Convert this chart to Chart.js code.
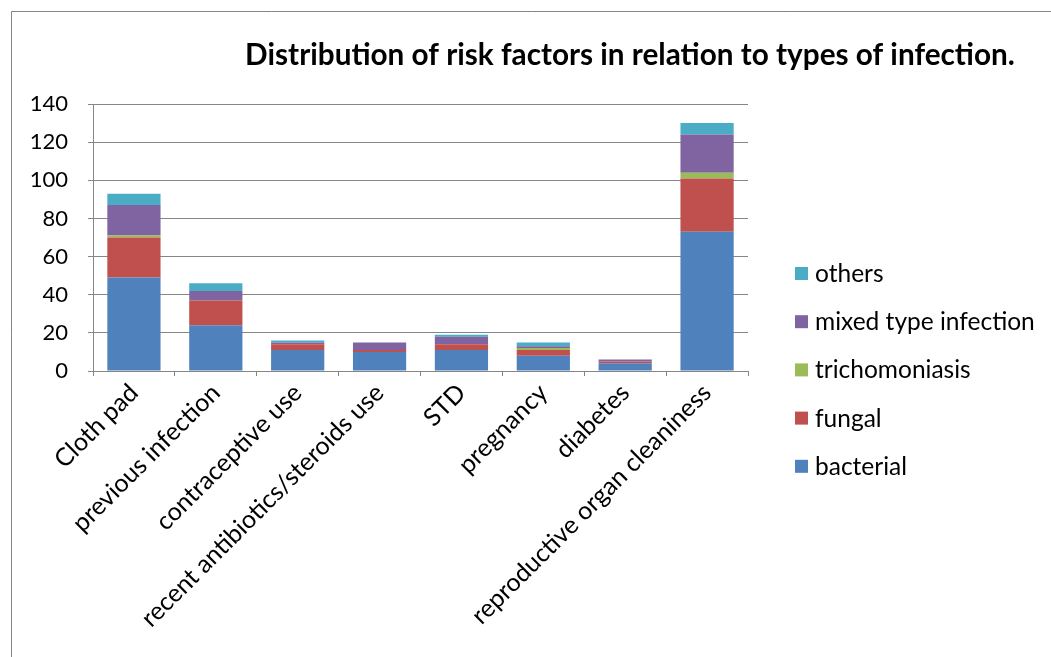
<!DOCTYPE html>
<html>
<head>
<meta charset="utf-8">
<script src="https://cdn.jsdelivr.net/npm/chart.js@4"></script>
<style>
  html, body { margin: 0; padding: 0; background: #fff; }
  #wrap { width: 1051px; height: 657px; position: relative; }
</style>
</head>
<body>
<div id="wrap"><canvas id="c" width="1051" height="657"></canvas></div>
<script>
// Risk factors (categories)
const categories = [
  'Cloth pad', 'previous infection', 'contraceptive use',
  'recent antibiotics/steroids use', 'STD', 'pregnancy', 'diabetes',
  'reproductive organ cleaniness'
];

// Cases per infection type
const bacterial      = [49, 24, 11, 10, 11, 8, 4, 73];
const fungal         = [21, 13,  3,  1,  3, 3, 1, 28];
const trichomoniasis = [ 1,  0,  0,  0,  0, 1, 0,  3];
const mixedType      = [16,  5,  1,  4,  4, 1, 1, 20];
const others         = [ 6,  4,  1,  0,  1, 2, 0,  6];

const yTicks = [0, 20, 40, 60, 80, 100, 120, 140];

const chartTitle = 'Distribution of risk factors in relation to types of infection.';
const FONT = 'Lato, "Open Sans", sans-serif';

// Outer frame, title and a right-hand legend drawn from the datasets
const decorations = {
  id: 'decorations',
  beforeDraw(chart) {
    const ctx = chart.ctx;
    ctx.save();
    ctx.fillStyle = '#fff';
    ctx.fillRect(0, 0, chart.width, chart.height);
    ctx.strokeStyle = '#868686';
    ctx.lineWidth = 1;
    ctx.beginPath();
    ctx.moveTo(11.5, chart.height);
    ctx.lineTo(11.5, 11.5);
    ctx.lineTo(chart.width, 11.5);
    ctx.stroke();
    ctx.restore();
  },
  afterDraw(chart) {
    const ctx = chart.ctx;
    ctx.save();
    ctx.fillStyle = '#000';
    // title sized to span 245..1015
    ctx.font = 'bold 22px ' + FONT;
    const w = ctx.measureText(chartTitle).width;
    const size = 22 * 770 / w;
    ctx.font = 'bold ' + size.toFixed(2) + 'px ' + FONT;
    ctx.textAlign = 'center';
    ctx.textBaseline = 'middle';
    ctx.fillText(chartTitle, 630, 55);

    const ds = chart.data.datasets.slice().reverse();
    ctx.font = '24.5px ' + FONT;
    ctx.textAlign = 'left';
    ds.forEach((d, i) => {
      const y = 273 + i * 48.2;
      ctx.fillStyle = d.backgroundColor;
      ctx.fillRect(795, y - 6, 13, 13);
      ctx.fillStyle = '#000';
      ctx.fillText(d.label, 815, y + 1);
    });
    ctx.restore();
  }
};

new Chart(document.getElementById('c'), {
  type: 'bar',
  data: {
    labels: categories,
    datasets: [
      { label: 'bacterial', data: bacterial, backgroundColor: '#4F81BD' },
      { label: 'fungal', data: fungal, backgroundColor: '#C0504D' },
      { label: 'trichomoniasis', data: trichomoniasis, backgroundColor: '#9BBB59' },
      { label: 'mixed type infection', data: mixedType, backgroundColor: '#8064A2' },
      { label: 'others', data: others, backgroundColor: '#4BACC6' }
    ]
  },
  options: {
    responsive: false,
    animation: false,
    devicePixelRatio: 1,
    layout: { padding: { left: 0, right: 303, top: 104, bottom: 0 } },
    datasets: { bar: { barPercentage: 0.65, categoryPercentage: 1.0, borderWidth: 0 } },
    plugins: {
      legend: { display: false },
      title: { display: false },
      tooltip: { enabled: false }
    },
    scales: {
      x: {
        stacked: true,
        afterFit(scale) { scale.height = 657 - 371; },
        grid: { display: true, drawOnChartArea: false, drawTicks: true, tickLength: 5, color: '#868686', offset: true },
        border: { display: true, color: '#868686', width: 1 },
        ticks: {
          color: '#000',
          font: { family: FONT, size: 25 },
          minRotation: 45,
          maxRotation: 45,
          padding: 2,
          autoSkip: false
        }
      },
      y: {
        stacked: true,
        min: 0,
        max: 140,
        afterFit(scale) { scale.width = 93; },
        afterBuildTicks(scale) { scale.ticks = yTicks.map(v => ({ value: v })); },
        grid: { color: '#868686', lineWidth: 1, drawTicks: true, tickLength: 5 },
        border: { display: true, color: '#868686', width: 1 },
        ticks: {
          color: '#000',
          font: { family: FONT, size: 22 },
          padding: 20
        }
      }
    }
  },
  plugins: [decorations]
});
</script>
</body>
</html>
